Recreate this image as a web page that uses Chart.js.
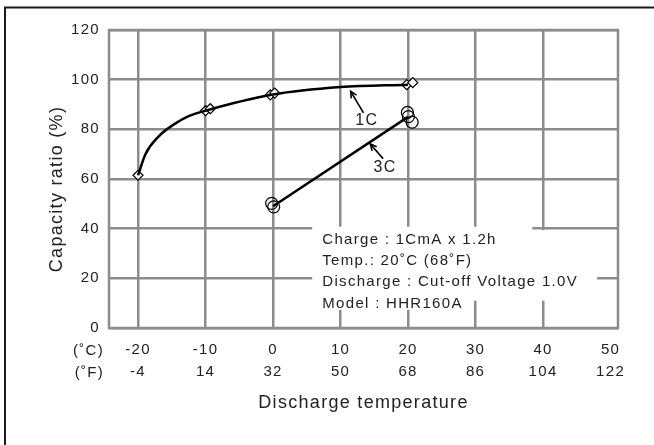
<!DOCTYPE html>
<html>
<head>
<meta charset="utf-8">
<script src="https://cdn.jsdelivr.net/npm/chart.js@4/dist/chart.umd.min.js"></script>
<style>
html, body { margin: 0; padding: 0; background: #fff; }
#wrap { width: 654px; height: 445px; }
</style>
</head>
<body>
<div id="wrap"><canvas id="capacityChart"></canvas></div>
<script>
// temperature axis: Celsius row and Fahrenheit row
const tempC = [-20, -10, 0, 10, 20, 30, 40, 50];
const tempF = [-4, 14, 32, 50, 68, 86, 104, 122];
const ratioTicks = [0, 20, 40, 60, 80, 100, 120];

const oneCTemp = [-20, -18.9, -17, -14.5, -12.5, -10, 0, 10, 20];
const oneCRatio = [61.5, 70, 77, 82.3, 85.3, 87.5, 94, 97, 98];
const oneCMarkTemp = [-20, -10, -9.3, -0.4, 0.25, 19.8, 20.7];
const oneCMarkRatio = [61.5, 87.5, 88.3, 93.9, 94.6, 98, 98.8];

// 3C discharge: line and measured points
const threeCTemp = [0, 20];
const threeCRatio = [49, 85];
const threeCMarkTemp = [-0.2, 0.1, 19.9, 20.05, 20.6];
const threeCMarkRatio = [50.2, 48.8, 86.8, 85.1, 82.9];

const noteLines = [
    'Charge : 1CmA x 1.2h',
    'Temp.: 20˚C (68˚F)',
    'Discharge : Cut-off Voltage 1.0V',
    'Model : HHR160A'
];

const FONT = '"Liberation Sans", Arial, sans-serif';
const SPACING = '1.3px';
const GRID = '#8c8c8c';
const INK = '#222';

const toPoints = (xs, ys) => xs.map((v, i) => ({ x: v, y: ys[i] }));

function arrow(ctx, x0, y0, x1, y1) {
    ctx.beginPath();
    ctx.moveTo(x0, y0);
    ctx.lineTo(x1, y1);
    ctx.stroke();
    const ang = Math.atan2(y1 - y0, x1 - x0);
    const len = 7, spread = 0.45;
    ctx.beginPath();
    ctx.moveTo(x1 - len * Math.cos(ang - spread), y1 - len * Math.sin(ang - spread));
    ctx.lineTo(x1, y1);
    ctx.lineTo(x1 - len * Math.cos(ang + spread), y1 - len * Math.sin(ang + spread));
    ctx.stroke();
}

// frame, plot border, note box, unit labels and curve labels
const decor = {
    id: 'decor',
    beforeLayout(chart) {
        chart.ctx.letterSpacing = SPACING;
    },
    beforeDraw(chart) {
        const ctx = chart.ctx;
        ctx.letterSpacing = SPACING;
        ctx.save();
        ctx.strokeStyle = '#1a1a1a';
        ctx.lineWidth = 2;
        ctx.beginPath();
        ctx.moveTo(5, chart.height);
        ctx.lineTo(5, 7.5);
        ctx.lineTo(chart.width, 7.5);
        ctx.stroke();
        ctx.restore();
    },
    beforeDatasetsDraw(chart) {
        const { ctx, chartArea: a, scales: { x, y } } = chart;
        ctx.save();
        ctx.strokeStyle = GRID;
        ctx.lineWidth = 2.5;
        ctx.strokeRect(a.left, a.top, a.right - a.left, a.bottom - a.top);

        // white box behind the test conditions
        ctx.fillStyle = '#fff';
        const box = (x0, x1, y0, y1) => {
            const px0 = x.getPixelForValue(x0), px1 = x.getPixelForValue(x1);
            const py0 = y.getPixelForValue(y0), py1 = y.getPixelForValue(y1);
            ctx.fillRect(px0, py1, px1 - px0, py0 - py1);
        };
        box(5.8, 38.4, 11, 40.8);
        box(38.4, 48, 11, 39.4);
        box(5.8, 29.6, 7.3, 11);

        ctx.fillStyle = INK;
        ctx.font = '15px ' + FONT;
        ctx.textAlign = 'left';
        ctx.textBaseline = 'alphabetic';
        const baselines = [33.8, 25.2, 16.8, 8.1];
        noteLines.forEach((t, i) => {
            ctx.fillText(t, x.getPixelForValue(7.3), y.getPixelForValue(baselines[i]));
        });

        // unit labels beside the two tick rows
        ctx.textAlign = 'right';
        ctx.textBaseline = 'middle';
        ctx.fillText('(˚C)', a.left - 5, a.bottom + 23);
        ctx.fillText('(˚F)', a.left - 5, a.bottom + 45);

        // y axis title, sitting a little below the plot's middle
        ctx.font = '18px ' + FONT;
        ctx.textAlign = 'center';
        ctx.translate(57, (a.top + a.bottom) / 2 + 10);
        ctx.rotate(-Math.PI / 2);
        ctx.fillText('Capacity ratio (%)', 0, 0);
        ctx.restore();
    },
    afterDatasetsDraw(chart) {
        const { ctx, scales: { x, y } } = chart;
        ctx.save();
        ctx.strokeStyle = '#000';
        ctx.lineWidth = 1.6;
        arrow(ctx, x.getPixelForValue(13.4), y.getPixelForValue(86.6),
                   x.getPixelForValue(11.5), y.getPixelForValue(95.3));
        arrow(ctx, x.getPixelForValue(16.3), y.getPixelForValue(68.2),
                   x.getPixelForValue(14.4), y.getPixelForValue(74.1));
        ctx.fillStyle = INK;
        ctx.font = '16px ' + FONT;
        ctx.textAlign = 'center';
        ctx.textBaseline = 'middle';
        ctx.fillText('1C', x.getPixelForValue(13.9), y.getPixelForValue(83.6));
        ctx.fillText('3C', x.getPixelForValue(16.6), y.getPixelForValue(64.6));
        ctx.restore();
    }
};

const ctx = document.getElementById('capacityChart').getContext('2d');
new Chart(ctx, {
    type: 'scatter',
    data: {
        datasets: [{
            label: '1C',
            data: toPoints(oneCTemp, oneCRatio),
            showLine: true,
            borderColor: '#000',
            borderWidth: 2.5,
            pointRadius: 0,
            cubicInterpolationMode: 'monotone'
        }, {
            label: '3C',
            data: toPoints(threeCTemp, threeCRatio),
            showLine: true,
            borderColor: '#000',
            borderWidth: 2.5,
            pointRadius: 0
        }, {
            label: '1C measured',
            data: toPoints(oneCMarkTemp, oneCMarkRatio),
            showLine: false,
            pointStyle: 'rectRot',
            pointRadius: 5,
            pointBackgroundColor: '#fff',
            pointBorderColor: '#000',
            pointBorderWidth: 1.2
        }, {
            label: '3C measured',
            data: toPoints(threeCMarkTemp, threeCMarkRatio),
            showLine: false,
            pointStyle: 'circle',
            pointRadius: 6,
            pointBackgroundColor: 'rgba(0,0,0,0)',
            pointBorderColor: '#000',
            pointBorderWidth: 1.2
        }]
    },
    options: {
        responsive: true,
        maintainAspectRatio: false,
        animation: false,
        layout: { padding: { left: 10, right: 36, top: 30, bottom: 20 } },
        plugins: {
            legend: { display: false },
            tooltip: { enabled: false }
        },
        scales: {
            x: {
                type: 'linear',
                min: -24.3,
                max: 51.1,
                afterBuildTicks: s => { s.ticks = tempC.map(v => ({ value: v })); },
                afterFit: s => { s.height = 97; },
                grid: {
                    color: c => (c.tick && c.tick.value === 50) ? 'rgba(0,0,0,0)' : GRID,
                    lineWidth: 2.5,
                    drawTicks: false
                },
                border: { display: false },
                ticks: {
                    padding: 11,
                    autoSkip: false,
                    maxRotation: 0,
                    color: INK,
                    font: { size: 15, family: FONT, lineHeight: 1.45 },
                    callback: v => [String(v), String(tempF[tempC.indexOf(v)])]
                },
                title: {
                    display: true,
                    text: 'Discharge temperature',
                    color: INK,
                    font: { size: 18, family: FONT },
                    padding: { top: 0, bottom: 11 }
                }
            },
            y: {
                min: 0,
                max: 120,
                afterBuildTicks: s => { s.ticks = ratioTicks.map(v => ({ value: v })); },
                afterFit: s => { s.width = 99; },
                grid: { color: GRID, lineWidth: 2.5, drawTicks: false },
                border: { display: false },
                ticks: {
                    padding: 9,
                    color: INK,
                    font: { size: 15, family: FONT }
                }
            }
        }
    },
    plugins: [decor]
});
</script>
</body>
</html>
